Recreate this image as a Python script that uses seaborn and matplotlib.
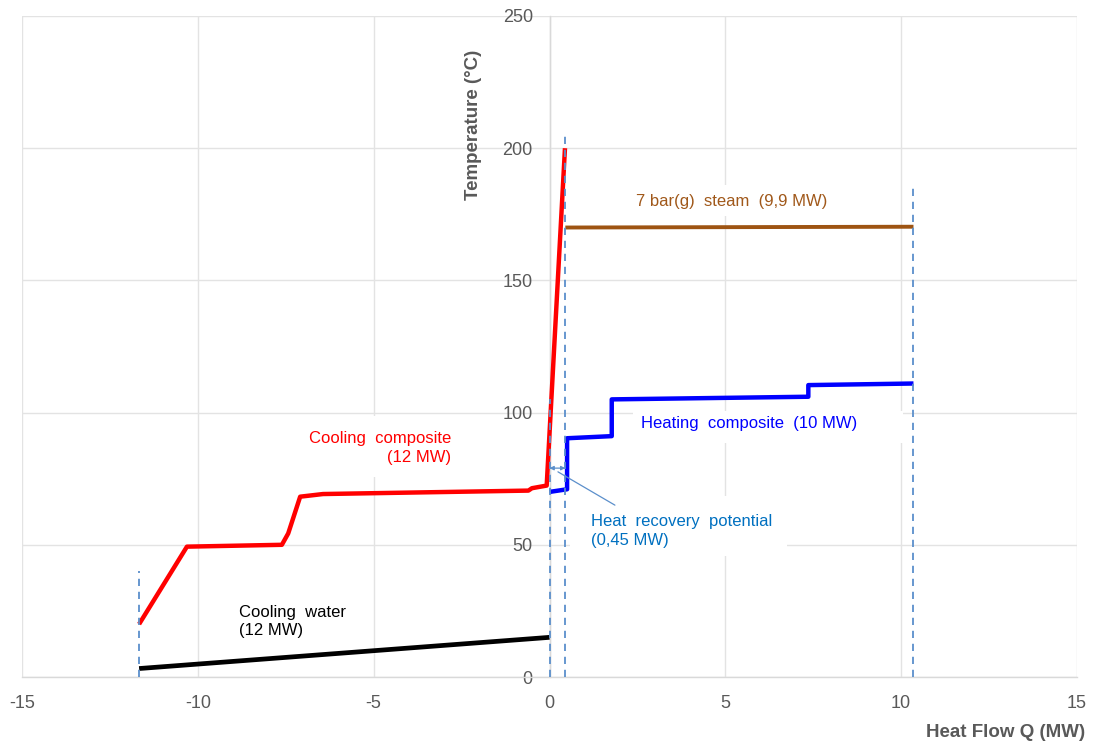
import matplotlib
matplotlib.use("Agg")
import matplotlib.pyplot as plt
from matplotlib.patches import Rectangle
from matplotlib import font_manager
import pandas as pd
import seaborn as sns

# Cooling composite curve (hot streams): heat flow Q in MW, temperature in °C
cool_q = [-11.67, -10.31, -7.61, -7.43, -7.09, -6.44, -0.60, -0.50, -0.08, 0.44]
cool_t = [20.0, 49.3, 50.0, 54.3, 68.2, 69.2, 70.5, 71.4, 72.4, 200.0]

# Heating composite curve (cold streams)
heat_q = [0.00, 0.50, 0.50, 1.77, 1.77, 7.36, 7.36, 10.35]
heat_t = [70.0, 71.0, 90.3, 91.1, 105.0, 106.0, 110.4, 111.0]

# Utilities
steam_q = [0.45, 10.35]
steam_t = [170.0, 170.3]
water_q = [-11.67, 0.00]
water_t = [3.2, 15.0]

# Vertical guide lines (Q position, top temperature)
guide_q = [-11.67, 0.00, 0.45, 10.35]
guide_top = [40, 105, 206, 187]

# Heat recovery potential span
recovery_q = [0.00, 0.45]
recovery_t = 79

x_ticks = [-15, -10, -5, 0, 5, 10, 15]
y_ticks = [0, 50, 100, 150, 200, 250]

sns.set_theme(style="white")
names = {f.name for f in font_manager.fontManager.ttflist}
narrow = "Liberation Sans Narrow" if "Liberation Sans Narrow" in names else "Liberation Sans"
plt.rcParams["font.family"] = ["Liberation Sans", "DejaVu Sans"]

fig = plt.figure(figsize=(10.95, 7.44), dpi=100)
ax = fig.add_axes([22 / 1095, 1 - 677 / 744, (1077 - 22) / 1095, (677 - 16) / 744])

# y axis drawn through Q = 0 (set before styling ticks, since it resets them)
for s in ["top", "right"]:
    ax.spines[s].set_visible(False)
ax.spines["left"].set_position(("data", 0))

curves = pd.concat([
    pd.DataFrame({"Q": cool_q, "T": cool_t, "curve": "cool"}),
    pd.DataFrame({"Q": heat_q, "T": heat_t, "curve": "heat"}),
    pd.DataFrame({"Q": steam_q, "T": steam_t, "curve": "steam"}),
    pd.DataFrame({"Q": water_q, "T": water_t, "curve": "water"}),
], ignore_index=True)

palette = {"cool": "#FF0000", "heat": "#0000FF", "steam": "#9E5412", "water": "#000000"}
widths = {"cool": 3.2, "heat": 3.2, "steam": 2.8, "water": 3.4}

# white label backgrounds (text boxes) sitting over the grid
for (x0, y0, w, h) in [(2.38, 88.5, 7.67, 12.1), (0.58, 45.8, 6.17, 22.7),
                       (-7.3, 75.6, 4.8, 23.3), (2.2, 174.5, 6.4, 11.5)]:
    ax.add_patch(Rectangle((x0, y0), w, h, facecolor="white", edgecolor="none", zorder=1))

for name, grp in curves.groupby("curve", sort=False):
    sns.lineplot(data=grp, x="Q", y="T", sort=False, estimator=None, ax=ax,
                 color=palette[name], linewidth=widths[name], zorder=3,
                 solid_capstyle="butt", legend=False)

guide_color = "#5B8FCB"
for q, top in zip(guide_q, guide_top):
    ax.vlines(q, 0, top, colors=guide_color, linestyles=(0, (4, 3.2)), linewidth=1.3, zorder=4)

# heat recovery arrow and leader
ax.annotate("", xy=(recovery_q[1], recovery_t), xytext=(recovery_q[0], recovery_t),
            arrowprops=dict(arrowstyle="<|-|>", color=guide_color, lw=0.9,
                            mutation_scale=6, shrinkA=0, shrinkB=0), zorder=5)
ax.plot([0.24, 1.86], [77.6, 65.0], color=guide_color, lw=0.9, zorder=4)

fs = 12
ax.text(-2.8, 86.6, "Cooling  composite\n(12 MW)", color="#FF0000", fontsize=fs,
        ha="right", va="center", multialignment="right", linespacing=1.3, zorder=6)
ax.text(-8.83, 21.0, "Cooling  water\n(12 MW)", color="#000000", fontsize=fs,
        ha="left", va="center", linespacing=1.3, zorder=6)
ax.text(2.6, 96.0, "Heating  composite  (10 MW)", color="#0000FF", fontsize=fs,
        ha="left", va="center", zorder=6)
ax.text(5.18, 179.8, "7 bar(g)  steam  (9,9 MW)", color="#A0581A", fontsize=fs,
        ha="center", va="center", zorder=6)
ax.text(1.17, 55.2, "Heat  recovery  potential\n(0,45 MW)", color="#0070C0", fontsize=fs,
        ha="left", va="center", linespacing=1.3, zorder=6)

ax.set_xlim(-15, 15)
ax.set_ylim(0, 250)
ax.set_xticks(x_ticks)
ax.set_yticks(y_ticks)
ax.set_xticklabels([str(v) for v in x_ticks], fontfamily=narrow, fontsize=13, color="#595959")
ax.set_yticklabels([str(v) for v in y_ticks], fontfamily=narrow, fontsize=13, color="#595959")
ax.tick_params(axis="both", length=0)
ax.tick_params(axis="x", pad=13)
ax.tick_params(axis="y", pad=12)

ax.grid(True, color="#E3E3E3", linewidth=1.0)
ax.set_axisbelow(True)
ax.spines["left"].set_color("#D9D9D9")
ax.spines["bottom"].set_color("#D9D9D9")
ax.spines["left"].set_linewidth(1.0)
ax.spines["bottom"].set_linewidth(1.0)

ax.set_xlabel("Heat Flow Q (MW)", fontfamily=narrow, fontsize=13.5, fontweight="bold",
              color="#595959", ha="right", va="center")
ax.xaxis.set_label_coords(1.0076, -0.084)
ax.set_ylabel("Temperature (°C)", fontfamily=narrow, fontsize=13.5, fontweight="bold",
              color="#595959")
ax.yaxis.set_label_coords(0.436, 0.835)

fig.savefig("out.png", dpi=100, facecolor="white")
